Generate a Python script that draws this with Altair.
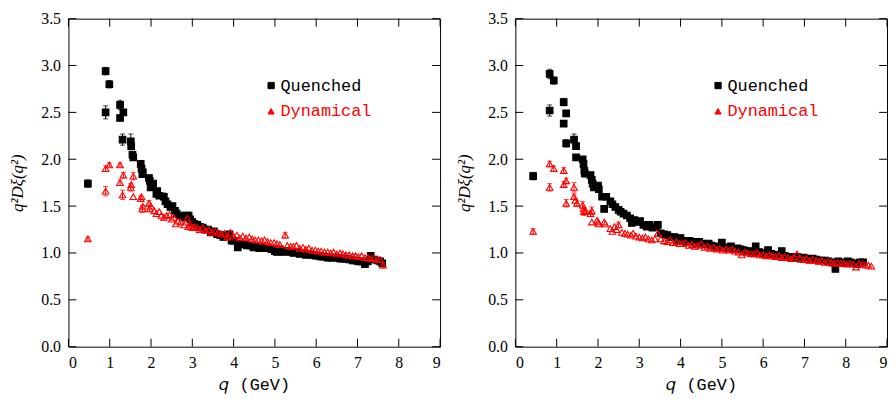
import altair as alt
import pandas as pd

# ---------------- data ----------------
# Left panel, quenched
LQ_q = [0.47, 0.90, 0.99, 0.90, 1.25, 1.25, 1.33, 1.31, 1.51, 1.52, 1.57, 1.55, 1.75, 1.77, 1.79, 1.80,
        1.97, 1.95, 1.99, 2.05, 2.13, 2.15, 2.20, 2.31, 2.35, 2.40, 2.47, 2.52, 2.58, 2.62, 2.70, 2.78,
        2.85, 2.91, 2.95, 3.00, 3.05, 3.12, 3.18, 3.25, 3.30, 3.38, 3.45, 3.52, 3.60, 3.68, 3.75, 3.82,
        3.90, 3.95, 4.02, 4.10, 4.18, 4.25, 4.32, 4.40, 4.48, 4.55, 4.62, 4.70, 4.78, 4.85, 4.92, 5.00,
        5.05, 5.12, 5.20, 5.30, 5.38, 5.45, 5.52, 5.60, 5.68, 5.75, 5.82, 5.90, 5.98, 6.05, 6.12, 6.20,
        6.28, 6.35, 6.42, 6.50, 6.58, 6.65, 6.72, 6.80, 6.88, 6.95, 7.02, 7.10, 7.18, 7.25, 7.32, 7.40,
        7.48, 7.55, 7.60]
LQ_v = [1.74, 2.94, 2.80, 2.50, 2.58, 2.44, 2.50, 2.21, 2.19, 2.14, 2.02, 2.05, 1.95, 1.90, 1.84, 1.86,
        1.77, 1.80, 1.70, 1.74, 1.63, 1.66, 1.61, 1.60, 1.55, 1.52, 1.49, 1.50, 1.45, 1.42, 1.40, 1.38,
        1.40, 1.40, 1.36, 1.33, 1.31, 1.30, 1.28, 1.27, 1.25, 1.25, 1.22, 1.23, 1.20, 1.19, 1.17, 1.18,
        1.20, 1.13, 1.13, 1.06, 1.10, 1.09, 1.08, 1.08, 1.06, 1.07, 1.05, 1.05, 1.06, 1.05, 1.04, 1.02,
        1.01, 1.04, 1.01, 1.02, 1.01, 1.00, 1.01, 0.99, 1.00, 0.98, 0.99, 0.98, 0.97, 0.97, 0.96, 0.96,
        0.95, 0.95, 0.95, 0.95, 0.94, 0.94, 0.94, 0.93, 0.92, 0.92, 0.91, 0.91, 0.88, 0.91, 0.97, 0.93,
        0.92, 0.91, 0.89]
LQ_err = [0.04, 0.04, 0.04, 0.07, 0.05, 0.03, 0.03, 0.06, 0.08, 0.03, 0.03, 0.0, 0.03, 0.0, 0.0, 0.0,
          0.0, 0.0, 0.03, 0.0, 0.0, 0.0, 0.0, 0.04]

# Left panel, dynamical
LD_q = [0.47, 0.90, 0.99, 0.90, 1.25, 1.25, 1.33, 1.31, 1.51, 1.52, 1.57, 1.57, 1.75, 1.77, 1.79, 1.80,
        1.95, 1.97, 2.00, 2.08, 2.13, 2.20, 2.25, 2.31, 2.38, 2.45, 2.50, 2.55, 2.60, 2.65, 2.72, 2.80,
        2.88, 2.90, 2.95, 3.00, 3.05, 3.12, 3.18, 3.25, 3.32, 3.40, 3.48, 3.55, 3.62, 3.70, 3.78, 3.85,
        3.92, 4.00, 4.08, 4.15, 4.22, 4.30, 4.38, 4.45, 4.52, 4.60, 4.68, 4.75, 4.82, 4.90, 4.98, 5.05,
        5.12, 5.25, 5.30, 5.38, 5.45, 5.52, 5.60, 5.68, 5.75, 5.82, 5.90, 5.98, 6.05, 6.12, 6.20, 6.28,
        6.35, 6.42, 6.50, 6.58, 6.65, 6.72, 6.80, 6.88, 6.95, 7.02, 7.10, 7.18, 7.25, 7.32, 7.40, 7.48,
        7.55, 7.62]
LD_v = [1.15, 1.90, 1.94, 1.66, 1.94, 1.75, 1.83, 1.62, 1.70, 1.73, 1.82, 1.60, 1.58, 1.60, 1.47, 1.50,
        1.53, 1.47, 1.50, 1.45, 1.42, 1.44, 1.40, 1.38, 1.40, 1.41, 1.36, 1.38, 1.31, 1.34, 1.33, 1.30,
        1.37, 1.28, 1.30, 1.27, 1.28, 1.27, 1.25, 1.27, 1.24, 1.25, 1.22, 1.23, 1.22, 1.20, 1.21, 1.17,
        1.22, 1.18, 1.19, 1.16, 1.18, 1.16, 1.17, 1.15, 1.14, 1.14, 1.13, 1.14, 1.12, 1.11, 1.11, 1.10,
        1.09, 1.19, 1.08, 1.07, 1.07, 1.08, 1.05, 1.06, 1.04, 1.05, 1.03, 1.03, 1.02, 1.02, 1.01, 1.01,
        1.00, 1.01, 0.99, 1.00, 0.99, 0.98, 0.98, 0.97, 0.97, 0.96, 0.97, 0.95, 0.95, 0.94, 0.95, 0.93,
        0.93, 0.87]
LD_err = [0.02, 0.03, 0.02, 0.05, 0.02, 0.03, 0.03, 0.05, 0.04, 0.0, 0.04, 0.0, 0.03, 0.0, 0.04, 0.0,
          0.03, 0.03, 0.0, 0.0, 0.0, 0.0, 0.0, 0.03, 0.0, 0.0, 0.0, 0.0, 0.0, 0.0, 0.0, 0.0,
          0.0, 0.03, 0.0, 0.03, 0.0, 0.0, 0.0, 0.0, 0.0, 0.0, 0.0, 0.0, 0.0, 0.0, 0.0, 0.03,
          0.0, 0.0, 0.0, 0.0, 0.0, 0.0, 0.0, 0.0, 0.0, 0.0, 0.0, 0.0, 0.0, 0.0, 0.0, 0.0,
          0.0, 0.03, 0.0, 0.0, 0.0, 0.0, 0.0, 0.0, 0.0, 0.0, 0.0, 0.0, 0.0, 0.0, 0.0, 0.0,
          0.0, 0.0, 0.0, 0.0, 0.0, 0.0, 0.0, 0.0, 0.0, 0.0, 0.0, 0.0, 0.0, 0.0, 0.0, 0.0,
          0.0, 0.03]

# Right panel, quenched
RQ_q = [0.43, 0.83, 0.93, 0.83, 1.17, 1.17, 1.23, 1.23, 1.42, 1.47, 1.47, 1.63, 1.65, 1.67, 1.68, 1.82,
        1.85, 1.87, 1.90, 2.00, 2.02, 2.10, 2.15, 2.20, 2.30, 2.35, 2.42, 2.50, 2.55, 2.62, 2.70, 2.78,
        2.82, 2.88, 2.95, 3.02, 3.10, 3.18, 3.25, 3.32, 3.40, 3.45, 3.52, 3.60, 3.68, 3.75, 3.85, 3.92,
        4.00, 4.08, 4.15, 4.22, 4.30, 4.38, 4.45, 4.52, 4.60, 4.68, 4.75, 4.82, 4.90, 5.00, 5.08, 5.15,
        5.22, 5.30, 5.38, 5.45, 5.52, 5.60, 5.68, 5.75, 5.82, 5.90, 5.98, 6.05, 6.12, 6.20, 6.28, 6.35,
        6.45, 6.52, 6.60, 6.68, 6.75, 6.82, 6.90, 6.98, 7.05, 7.12, 7.20, 7.28, 7.35, 7.42, 7.50, 7.58,
        7.65, 7.75, 7.82, 7.90, 7.98, 8.05, 8.12, 8.20, 8.28, 8.35, 8.42]
RQ_v = [1.82, 2.91, 2.84, 2.52, 2.61, 2.38, 2.49, 2.17, 2.21, 2.14, 2.02, 2.00, 1.95, 1.88, 1.85, 1.83,
        1.78, 1.74, 1.70, 1.72, 1.68, 1.60, 1.47, 1.60, 1.55, 1.52, 1.49, 1.46, 1.44, 1.42, 1.40, 1.37,
        1.32, 1.35, 1.33, 1.34, 1.30, 1.28, 1.30, 1.27, 1.28, 1.30, 1.21, 1.20, 1.19, 1.17, 1.17, 1.14,
        1.16, 1.13, 1.12, 1.13, 1.12, 1.10, 1.12, 1.10, 1.09, 1.10, 1.08, 1.07, 1.06, 1.11, 1.06, 1.05,
        1.07, 1.04, 1.05, 1.04, 1.03, 1.02, 1.02, 1.00, 1.07, 1.01, 1.00, 0.99, 1.03, 0.99, 0.98, 0.97,
        1.02, 0.97, 0.96, 0.96, 0.95, 0.96, 0.94, 0.95, 0.94, 0.93, 0.94, 0.93, 0.92, 0.92, 0.92, 0.91,
        0.90, 0.83, 0.91, 0.90, 0.89, 0.91, 0.90, 0.89, 0.88, 0.90, 0.90]
RQ_err = [0.04, 0.05, 0.04, 0.06, 0.04, 0.02, 0.03, 0.04, 0.06, 0.03, 0.02, 0.0, 0.0, 0.0, 0.04, 0.0,
          0.0, 0.0, 0.03, 0.0, 0.0, 0.0, 0.02]

# Right panel, dynamical
RD_q = [0.43, 0.83, 0.93, 0.83, 1.17, 1.23, 1.17, 1.23, 1.42, 1.42, 1.45, 1.49, 1.63, 1.65, 1.66, 1.70,
        1.82, 1.85, 1.85, 1.98, 2.00, 2.02, 2.15, 2.18, 2.30, 2.35, 2.40, 2.45, 2.50, 2.58, 2.65, 2.72,
        2.80, 2.85, 2.92, 3.00, 3.08, 3.15, 3.22, 3.30, 3.38, 3.45, 3.52, 3.60, 3.68, 3.75, 3.82, 3.90,
        3.98, 4.05, 4.12, 4.20, 4.28, 4.35, 4.42, 4.50, 4.58, 4.65, 4.72, 4.80, 4.88, 4.95, 5.02, 5.10,
        5.18, 5.25, 5.32, 5.40, 5.48, 5.55, 5.62, 5.70, 5.78, 5.85, 5.92, 6.00, 6.08, 6.15, 6.22, 6.30,
        6.38, 6.45, 6.52, 6.60, 6.68, 6.75, 6.82, 6.90, 6.98, 7.05, 7.12, 7.20, 7.28, 7.35, 7.42, 7.50,
        7.58, 7.65, 7.72, 7.80, 7.88, 7.95, 8.02, 8.10, 8.18, 8.25, 8.32, 8.40, 8.48, 8.55, 8.62]
RD_v = [1.23, 1.95, 1.90, 1.70, 1.88, 1.77, 1.73, 1.53, 1.70, 1.60, 1.56, 1.53, 1.51, 1.47, 1.44, 1.45,
        1.42, 1.45, 1.33, 1.35, 1.33, 1.31, 1.33, 1.31, 1.26, 1.23, 1.28, 1.25, 1.30, 1.22, 1.21, 1.20,
        1.19, 1.21, 1.18, 1.17, 1.16, 1.17, 1.15, 1.14, 1.15, 1.21, 1.15, 1.13, 1.12, 1.14, 1.11, 1.12,
        1.10, 1.10, 1.11, 1.08, 1.09, 1.07, 1.08, 1.10, 1.06, 1.07, 1.05, 1.06, 1.04, 1.05, 1.03, 1.04,
        1.03, 1.04, 1.02, 1.01, 0.98, 1.01, 1.00, 0.99, 0.99, 1.00, 0.98, 0.98, 0.97, 0.98, 0.97, 0.96,
        0.97, 0.95, 0.96, 0.95, 0.94, 0.96, 0.99, 0.94, 0.93, 0.94, 0.92, 0.93, 0.92, 0.91, 0.92, 0.90,
        0.91, 0.90, 0.89, 0.90, 0.89, 0.89, 0.88, 0.89, 0.88, 0.85, 0.89, 0.88, 0.87, 0.87, 0.86]
RD_err = [0.03, 0.03, 0.03, 0.04, 0.03, 0.03, 0.03, 0.04, 0.05, 0.03, 0.0, 0.03, 0.04, 0.0, 0.04, 0.0,
          0.03, 0.04, 0.0, 0.0, 0.0, 0.0, 0.0, 0.0, 0.0, 0.0, 0.0, 0.0, 0.03]

SERIES = ["Quenched", "Dynamical"]
COLORS = ["black", "red"]
X_TICKS = [0, 1, 2, 3, 4, 5, 6, 7, 8, 9]
Y_TICKS = [0.0, 0.5, 1.0, 1.5, 2.0, 2.5, 3.0, 3.5]

W, H = 375, 331
TICK = 8


def make_df(qs, vs, errs, name):
    rows = []
    for i, (q, v) in enumerate(zip(qs, vs)):
        e = errs[i] if i < len(errs) else 0.0
        rows.append({"q": q, "v": v, "err": e, "series": name})
    return rows


def panel(quenched, dynamical):
    df = pd.DataFrame(quenched + dynamical)
    xs = alt.Scale(domain=[0, 9], nice=False, zero=False)
    ys = alt.Scale(domain=[0, 3.5], nice=False, zero=False)
    x = alt.X("q:Q", scale=xs,
              axis=alt.Axis(values=X_TICKS, format="d", title="𝑞 (GeV)",
                            titleFont="Liberation Mono", titleFontSize=17))
    y = alt.Y("v:Q", scale=ys,
              axis=alt.Axis(values=Y_TICKS, format=".1f", title="q²Dξ(q²)",
                            titleFont="Liberation Serif", titleFontStyle="italic",
                            titleFontSize=17))
    cscale = alt.Scale(domain=SERIES, range=COLORS)

    errbars = alt.Chart(df).transform_filter("datum.err > 0").mark_errorbar(
        ticks={"size": 5}, thickness=1
    ).encode(
        x=alt.X("q:Q", scale=xs),
        y=alt.Y("v:Q", scale=ys, title=""),
        yError="err:Q",
        color=alt.Color("series:N", scale=cscale, legend=None),
    )

    points = alt.Chart(df).mark_point(size=44, strokeWidth=1.1, opacity=1).encode(
        x=x,
        y=y,
        color=alt.Color("series:N", scale=cscale, title=None,
                        legend=alt.Legend(orient="none", legendX=196, legendY=59,
                                          labelFont="Liberation Mono", labelFontSize=17,
                                          labelColor={"expr": "datum.label == 'Quenched' ? 'black' : 'red'"},
                                          rowPadding=8, labelOffset=1, symbolSize=40,
                                          symbolStrokeWidth=1)),
        shape=alt.Shape("series:N", scale=alt.Scale(domain=SERIES, range=["square", "triangle-up"]),
                        title=None),
        fill=alt.Fill("series:N", scale=alt.Scale(domain=SERIES, range=["black", "transparent"]),
                      title=None),
        order=alt.Order("order:Q"),
    ).transform_calculate(order="datum.series == 'Quenched' ? 0 : 1")

    xt = pd.DataFrame({"t": X_TICKS})
    yt = pd.DataFrame({"t": Y_TICKS})
    top = alt.Chart(xt).mark_rule(color="black", strokeWidth=1).encode(
        x=alt.X("t:Q", scale=xs), y=alt.value(0), y2=alt.value(TICK))
    bot = alt.Chart(xt).mark_rule(color="black", strokeWidth=1).encode(
        x=alt.X("t:Q", scale=xs), y=alt.value(H), y2=alt.value(H - TICK))
    lft = alt.Chart(yt).mark_rule(color="black", strokeWidth=1).encode(
        y=alt.Y("t:Q", scale=ys), x=alt.value(0), x2=alt.value(TICK))
    rgt = alt.Chart(yt).mark_rule(color="black", strokeWidth=1).encode(
        y=alt.Y("t:Q", scale=ys), x=alt.value(W), x2=alt.value(W - TICK))

    return alt.layer(points, errbars, top, bot, lft, rgt).properties(width=W, height=H)


left = panel(make_df(LQ_q, LQ_v, LQ_err, "Quenched"), make_df(LD_q, LD_v, LD_err, "Dynamical"))
right = panel(make_df(RQ_q, RQ_v, RQ_err, "Quenched"), make_df(RD_q, RD_v, RD_err, "Dynamical"))

chart = alt.hconcat(left, right, spacing=14).resolve_scale(
    color="independent", shape="independent", fill="independent"
).properties(
    padding={"left": 0, "top": 0, "right": 0, "bottom": 0}, background="white"
).configure_view(
    stroke="black", strokeWidth=1
).configure_axis(
    grid=False, ticks=False, domain=False,
    labelFont="Liberation Serif", labelFontSize=16, labelColor="black",
    labelPadding=8, titleColor="black", titleFontWeight="normal",
    titlePadding=14,
).configure_axisX(labelPadding=8, titlePadding=6)

chart.save("out.html", embed_options={"renderer": "svg", "actions": False})
